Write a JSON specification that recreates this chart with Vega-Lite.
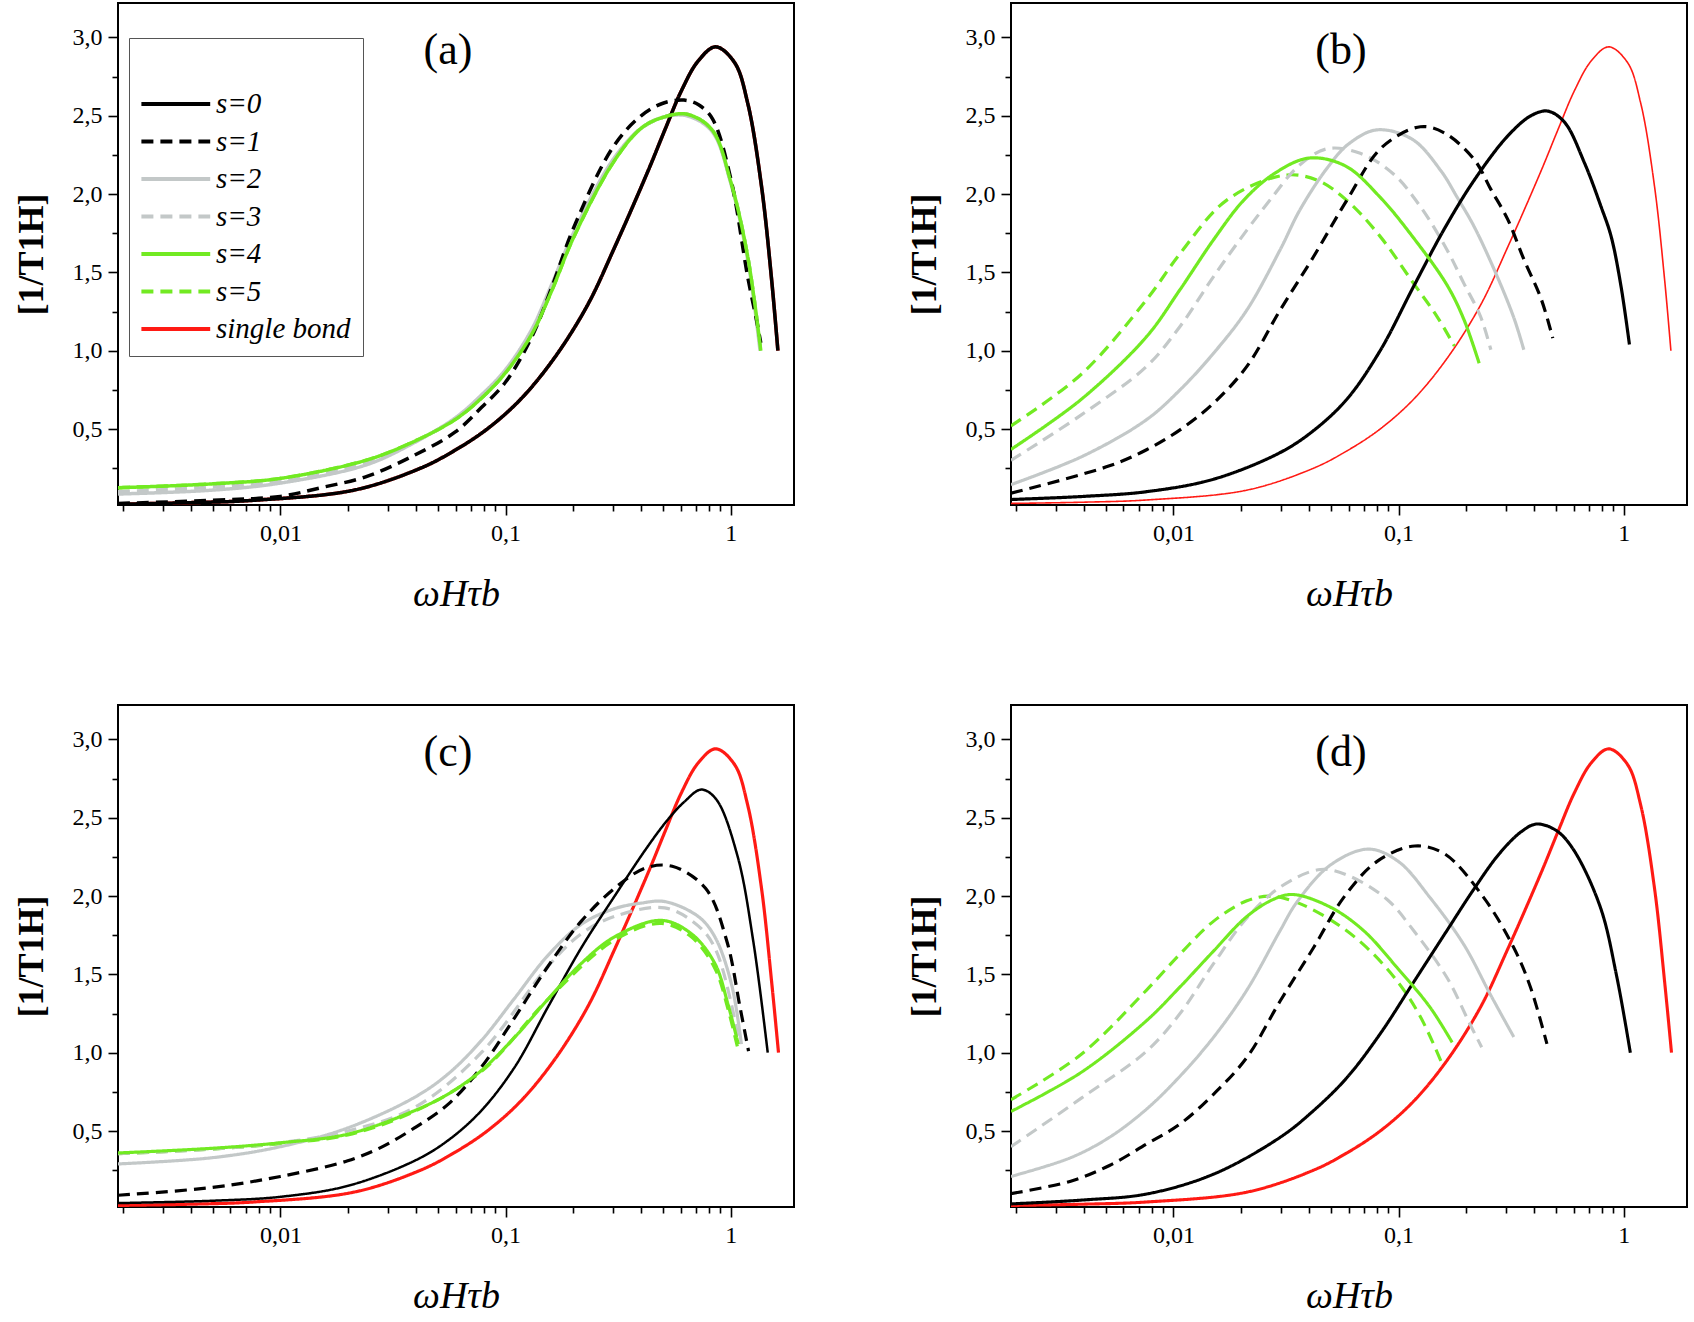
{
  "$schema": "https://vega.github.io/schema/vega-lite/v6.json",
  "background": "white",
  "padding": {"left": 12, "top": 2, "right": 0, "bottom": 0},
  "columns": 2,
  "spacing": {"row": 90, "column": 110},
  "datasets": {
    "curves": [
      {"p":"a","s":"single bond","x":0.0019,"y":0.02},{"p":"a","s":"single bond","x":0.004,"y":0.03},{"p":"a","s":"single bond","x":0.0076,"y":0.045},{"p":"a","s":"single bond","x":0.0212,"y":0.11},{"p":"a","s":"single bond","x":0.0419,"y":0.25},{"p":"a","s":"single bond","x":0.0589,"y":0.36},{"p":"a","s":"single bond","x":0.0828,"y":0.5},{"p":"a","s":"single bond","x":0.1166,"y":0.69},{"p":"a","s":"single bond","x":0.164,"y":0.95},{"p":"a","s":"single bond","x":0.231,"y":1.29},{"p":"a","s":"single bond","x":0.305,"y":1.66},{"p":"a","s":"single bond","x":0.43,"y":2.15},{"p":"a","s":"single bond","x":0.51,"y":2.41},{"p":"a","s":"single bond","x":0.604,"y":2.66},{"p":"a","s":"single bond","x":0.717,"y":2.85},{"p":"a","s":"single bond","x":0.857,"y":2.94},{"p":"a","s":"single bond","x":1.04,"y":2.84},{"p":"a","s":"single bond","x":1.19,"y":2.58},{"p":"a","s":"single bond","x":1.37,"y":2.05},{"p":"a","s":"single bond","x":1.52,"y":1.45},{"p":"a","s":"single bond","x":1.62,"y":1.0},
      {"p":"a","s":"s=5","x":0.0019,"y":0.125},{"p":"a","s":"s=5","x":0.005,"y":0.15},{"p":"a","s":"s=5","x":0.01,"y":0.185},{"p":"a","s":"s=5","x":0.0239,"y":0.3},{"p":"a","s":"s=5","x":0.0378,"y":0.41},{"p":"a","s":"s=5","x":0.0596,"y":0.56},{"p":"a","s":"s=5","x":0.0785,"y":0.7},{"p":"a","s":"s=5","x":0.1,"y":0.86},{"p":"a","s":"s=5","x":0.13,"y":1.1},{"p":"a","s":"s=5","x":0.16,"y":1.38},{"p":"a","s":"s=5","x":0.2,"y":1.72},{"p":"a","s":"s=5","x":0.3,"y":2.2},{"p":"a","s":"s=5","x":0.4,"y":2.42},{"p":"a","s":"s=5","x":0.5,"y":2.49},{"p":"a","s":"s=5","x":0.638,"y":2.51},{"p":"a","s":"s=5","x":0.826,"y":2.41},{"p":"a","s":"s=5","x":1.0,"y":2.08},{"p":"a","s":"s=5","x":1.19,"y":1.6},{"p":"a","s":"s=5","x":1.36,"y":1.0},
      {"p":"a","s":"s=3","x":0.0019,"y":0.1},{"p":"a","s":"s=3","x":0.005,"y":0.13},{"p":"a","s":"s=3","x":0.01,"y":0.17},{"p":"a","s":"s=3","x":0.0239,"y":0.285},{"p":"a","s":"s=3","x":0.0378,"y":0.405},{"p":"a","s":"s=3","x":0.0596,"y":0.565},{"p":"a","s":"s=3","x":0.0785,"y":0.71},{"p":"a","s":"s=3","x":0.1,"y":0.87},{"p":"a","s":"s=3","x":0.13,"y":1.11},{"p":"a","s":"s=3","x":0.16,"y":1.4},{"p":"a","s":"s=3","x":0.2,"y":1.73},{"p":"a","s":"s=3","x":0.3,"y":2.21},{"p":"a","s":"s=3","x":0.4,"y":2.42},{"p":"a","s":"s=3","x":0.5,"y":2.49},{"p":"a","s":"s=3","x":0.638,"y":2.51},{"p":"a","s":"s=3","x":0.826,"y":2.41},{"p":"a","s":"s=3","x":1.0,"y":2.08},{"p":"a","s":"s=3","x":1.19,"y":1.6},{"p":"a","s":"s=3","x":1.36,"y":1.0},
      {"p":"a","s":"s=2","x":0.0019,"y":0.085},{"p":"a","s":"s=2","x":0.005,"y":0.11},{"p":"a","s":"s=2","x":0.01,"y":0.155},{"p":"a","s":"s=2","x":0.0239,"y":0.27},{"p":"a","s":"s=2","x":0.0378,"y":0.4},{"p":"a","s":"s=2","x":0.0596,"y":0.57},{"p":"a","s":"s=2","x":0.0785,"y":0.72},{"p":"a","s":"s=2","x":0.1,"y":0.88},{"p":"a","s":"s=2","x":0.13,"y":1.13},{"p":"a","s":"s=2","x":0.16,"y":1.42},{"p":"a","s":"s=2","x":0.2,"y":1.75},{"p":"a","s":"s=2","x":0.3,"y":2.22},{"p":"a","s":"s=2","x":0.4,"y":2.42},{"p":"a","s":"s=2","x":0.5,"y":2.49},{"p":"a","s":"s=2","x":0.638,"y":2.5},{"p":"a","s":"s=2","x":0.826,"y":2.4},{"p":"a","s":"s=2","x":1.0,"y":2.07},{"p":"a","s":"s=2","x":1.19,"y":1.58},{"p":"a","s":"s=2","x":1.35,"y":1.0},
      {"p":"a","s":"s=1","x":0.0019,"y":0.025},{"p":"a","s":"s=1","x":0.005,"y":0.045},{"p":"a","s":"s=1","x":0.01,"y":0.07},{"p":"a","s":"s=1","x":0.0151,"y":0.125},{"p":"a","s":"s=1","x":0.0239,"y":0.195},{"p":"a","s":"s=1","x":0.0378,"y":0.32},{"p":"a","s":"s=1","x":0.0596,"y":0.48},{"p":"a","s":"s=1","x":0.0785,"y":0.64},{"p":"a","s":"s=1","x":0.1,"y":0.8},{"p":"a","s":"s=1","x":0.13,"y":1.08},{"p":"a","s":"s=1","x":0.16,"y":1.4},{"p":"a","s":"s=1","x":0.2,"y":1.78},{"p":"a","s":"s=1","x":0.3,"y":2.3},{"p":"a","s":"s=1","x":0.4,"y":2.5},{"p":"a","s":"s=1","x":0.5,"y":2.58},{"p":"a","s":"s=1","x":0.62,"y":2.6},{"p":"a","s":"s=1","x":0.72,"y":2.57},{"p":"a","s":"s=1","x":0.83,"y":2.48},{"p":"a","s":"s=1","x":1.0,"y":2.1},{"p":"a","s":"s=1","x":1.19,"y":1.47},{"p":"a","s":"s=1","x":1.3,"y":1.2},{"p":"a","s":"s=1","x":1.36,"y":1.05},
      {"p":"a","s":"s=0","x":0.0019,"y":0.02},{"p":"a","s":"s=0","x":0.004,"y":0.03},{"p":"a","s":"s=0","x":0.0076,"y":0.045},{"p":"a","s":"s=0","x":0.0212,"y":0.11},{"p":"a","s":"s=0","x":0.0419,"y":0.25},{"p":"a","s":"s=0","x":0.0589,"y":0.36},{"p":"a","s":"s=0","x":0.0828,"y":0.5},{"p":"a","s":"s=0","x":0.1166,"y":0.69},{"p":"a","s":"s=0","x":0.164,"y":0.95},{"p":"a","s":"s=0","x":0.231,"y":1.29},{"p":"a","s":"s=0","x":0.305,"y":1.66},{"p":"a","s":"s=0","x":0.43,"y":2.15},{"p":"a","s":"s=0","x":0.51,"y":2.41},{"p":"a","s":"s=0","x":0.604,"y":2.66},{"p":"a","s":"s=0","x":0.717,"y":2.85},{"p":"a","s":"s=0","x":0.857,"y":2.94},{"p":"a","s":"s=0","x":1.04,"y":2.84},{"p":"a","s":"s=0","x":1.19,"y":2.58},{"p":"a","s":"s=0","x":1.37,"y":2.05},{"p":"a","s":"s=0","x":1.52,"y":1.45},{"p":"a","s":"s=0","x":1.62,"y":1.0},
      {"p":"a","s":"s=4","x":0.0019,"y":0.125},{"p":"a","s":"s=4","x":0.005,"y":0.15},{"p":"a","s":"s=4","x":0.01,"y":0.185},{"p":"a","s":"s=4","x":0.0239,"y":0.3},{"p":"a","s":"s=4","x":0.0378,"y":0.41},{"p":"a","s":"s=4","x":0.0596,"y":0.56},{"p":"a","s":"s=4","x":0.0785,"y":0.7},{"p":"a","s":"s=4","x":0.1,"y":0.86},{"p":"a","s":"s=4","x":0.13,"y":1.1},{"p":"a","s":"s=4","x":0.16,"y":1.38},{"p":"a","s":"s=4","x":0.2,"y":1.72},{"p":"a","s":"s=4","x":0.3,"y":2.2},{"p":"a","s":"s=4","x":0.4,"y":2.42},{"p":"a","s":"s=4","x":0.5,"y":2.49},{"p":"a","s":"s=4","x":0.638,"y":2.51},{"p":"a","s":"s=4","x":0.826,"y":2.41},{"p":"a","s":"s=4","x":1.0,"y":2.08},{"p":"a","s":"s=4","x":1.19,"y":1.6},{"p":"a","s":"s=4","x":1.36,"y":1.0},

      {"p":"b","s":"single bond","x":0.0019,"y":0.025},{"p":"b","s":"single bond","x":0.004,"y":0.033},{"p":"b","s":"single bond","x":0.0076,"y":0.047},{"p":"b","s":"single bond","x":0.0212,"y":0.11},{"p":"b","s":"single bond","x":0.0419,"y":0.25},{"p":"b","s":"single bond","x":0.0589,"y":0.36},{"p":"b","s":"single bond","x":0.0828,"y":0.5},{"p":"b","s":"single bond","x":0.1166,"y":0.69},{"p":"b","s":"single bond","x":0.164,"y":0.95},{"p":"b","s":"single bond","x":0.231,"y":1.29},{"p":"b","s":"single bond","x":0.305,"y":1.66},{"p":"b","s":"single bond","x":0.43,"y":2.15},{"p":"b","s":"single bond","x":0.51,"y":2.41},{"p":"b","s":"single bond","x":0.604,"y":2.66},{"p":"b","s":"single bond","x":0.717,"y":2.85},{"p":"b","s":"single bond","x":0.857,"y":2.94},{"p":"b","s":"single bond","x":1.04,"y":2.84},{"p":"b","s":"single bond","x":1.19,"y":2.58},{"p":"b","s":"single bond","x":1.37,"y":2.05},{"p":"b","s":"single bond","x":1.52,"y":1.45},{"p":"b","s":"single bond","x":1.62,"y":1.0},
      {"p":"b","s":"s=5","x":0.0019,"y":0.52},{"p":"b","s":"s=5","x":0.0039,"y":0.85},{"p":"b","s":"s=5","x":0.0076,"y":1.326},{"p":"b","s":"s=5","x":0.0107,"y":1.62},{"p":"b","s":"s=5","x":0.0172,"y":1.96},{"p":"b","s":"s=5","x":0.031,"y":2.12},{"p":"b","s":"s=5","x":0.0434,"y":2.09},{"p":"b","s":"s=5","x":0.0589,"y":1.96},{"p":"b","s":"s=5","x":0.0828,"y":1.73},{"p":"b","s":"s=5","x":0.1166,"y":1.43},{"p":"b","s":"s=5","x":0.148,"y":1.22},{"p":"b","s":"s=5","x":0.177,"y":1.03},
      {"p":"b","s":"s=3","x":0.0019,"y":0.3},{"p":"b","s":"s=3","x":0.0039,"y":0.59},{"p":"b","s":"s=3","x":0.0076,"y":0.9},{"p":"b","s":"s=3","x":0.0107,"y":1.155},{"p":"b","s":"s=3","x":0.0151,"y":1.475},{"p":"b","s":"s=3","x":0.0212,"y":1.77},{"p":"b","s":"s=3","x":0.0268,"y":1.96},{"p":"b","s":"s=3","x":0.036,"y":2.18},{"p":"b","s":"s=3","x":0.0484,"y":2.29},{"p":"b","s":"s=3","x":0.0676,"y":2.26},{"p":"b","s":"s=3","x":0.0946,"y":2.13},{"p":"b","s":"s=3","x":0.125,"y":1.92},{"p":"b","s":"s=3","x":0.164,"y":1.645},{"p":"b","s":"s=3","x":0.195,"y":1.43},{"p":"b","s":"s=3","x":0.231,"y":1.22},{"p":"b","s":"s=3","x":0.257,"y":1.006},
      {"p":"b","s":"s=2","x":0.0019,"y":0.145},{"p":"b","s":"s=2","x":0.004,"y":0.33},{"p":"b","s":"s=2","x":0.0076,"y":0.56},{"p":"b","s":"s=2","x":0.0107,"y":0.75},{"p":"b","s":"s=2","x":0.0151,"y":0.985},{"p":"b","s":"s=2","x":0.0212,"y":1.26},{"p":"b","s":"s=2","x":0.0298,"y":1.645},{"p":"b","s":"s=2","x":0.0365,"y":1.9},{"p":"b","s":"s=2","x":0.0484,"y":2.17},{"p":"b","s":"s=2","x":0.06,"y":2.32},{"p":"b","s":"s=2","x":0.08,"y":2.41},{"p":"b","s":"s=2","x":0.115,"y":2.35},{"p":"b","s":"s=2","x":0.154,"y":2.15},{"p":"b","s":"s=2","x":0.182,"y":1.98},{"p":"b","s":"s=2","x":0.217,"y":1.79},{"p":"b","s":"s=2","x":0.275,"y":1.47},{"p":"b","s":"s=2","x":0.327,"y":1.2},{"p":"b","s":"s=2","x":0.36,"y":1.006},
      {"p":"b","s":"s=1","x":0.0019,"y":0.09},{"p":"b","s":"s=1","x":0.0052,"y":0.265},{"p":"b","s":"s=1","x":0.0076,"y":0.368},{"p":"b","s":"s=1","x":0.0107,"y":0.495},{"p":"b","s":"s=1","x":0.0151,"y":0.666},{"p":"b","s":"s=1","x":0.0212,"y":0.9},{"p":"b","s":"s=1","x":0.0298,"y":1.26},{"p":"b","s":"s=1","x":0.0419,"y":1.6},{"p":"b","s":"s=1","x":0.0589,"y":1.96},{"p":"b","s":"s=1","x":0.0845,"y":2.3},{"p":"b","s":"s=1","x":0.125,"y":2.43},{"p":"b","s":"s=1","x":0.16,"y":2.39},{"p":"b","s":"s=1","x":0.217,"y":2.22},{"p":"b","s":"s=1","x":0.257,"y":2.03},{"p":"b","s":"s=1","x":0.305,"y":1.84},{"p":"b","s":"s=1","x":0.361,"y":1.58},{"p":"b","s":"s=1","x":0.43,"y":1.33},{"p":"b","s":"s=1","x":0.484,"y":1.08},
      {"p":"b","s":"s=0","x":0.0019,"y":0.05},{"p":"b","s":"s=0","x":0.004,"y":0.07},{"p":"b","s":"s=0","x":0.0076,"y":0.1},{"p":"b","s":"s=0","x":0.0151,"y":0.18},{"p":"b","s":"s=0","x":0.0298,"y":0.35},{"p":"b","s":"s=0","x":0.0419,"y":0.49},{"p":"b","s":"s=0","x":0.0589,"y":0.69},{"p":"b","s":"s=0","x":0.0828,"y":1.0},{"p":"b","s":"s=0","x":0.1166,"y":1.41},{"p":"b","s":"s=0","x":0.16,"y":1.78},{"p":"b","s":"s=0","x":0.217,"y":2.09},{"p":"b","s":"s=0","x":0.305,"y":2.37},{"p":"b","s":"s=0","x":0.387,"y":2.5},{"p":"b","s":"s=0","x":0.459,"y":2.53},{"p":"b","s":"s=0","x":0.545,"y":2.46},{"p":"b","s":"s=0","x":0.669,"y":2.2},{"p":"b","s":"s=0","x":0.793,"y":1.92},{"p":"b","s":"s=0","x":0.879,"y":1.73},{"p":"b","s":"s=0","x":0.973,"y":1.41},{"p":"b","s":"s=0","x":1.06,"y":1.04},
      {"p":"b","s":"s=4","x":0.0019,"y":0.37},{"p":"b","s":"s=4","x":0.0039,"y":0.69},{"p":"b","s":"s=4","x":0.0076,"y":1.09},{"p":"b","s":"s=4","x":0.0107,"y":1.39},{"p":"b","s":"s=4","x":0.0151,"y":1.71},{"p":"b","s":"s=4","x":0.0205,"y":1.96},{"p":"b","s":"s=4","x":0.028,"y":2.13},{"p":"b","s":"s=4","x":0.04,"y":2.23},{"p":"b","s":"s=4","x":0.058,"y":2.18},{"p":"b","s":"s=4","x":0.0828,"y":1.98},{"p":"b","s":"s=4","x":0.1166,"y":1.72},{"p":"b","s":"s=4","x":0.164,"y":1.42},{"p":"b","s":"s=4","x":0.195,"y":1.2},{"p":"b","s":"s=4","x":0.228,"y":0.92},

      {"p":"c","s":"single bond","x":0.0019,"y":0.025},{"p":"c","s":"single bond","x":0.004,"y":0.033},{"p":"c","s":"single bond","x":0.0076,"y":0.047},{"p":"c","s":"single bond","x":0.0212,"y":0.11},{"p":"c","s":"single bond","x":0.0419,"y":0.25},{"p":"c","s":"single bond","x":0.0589,"y":0.36},{"p":"c","s":"single bond","x":0.0828,"y":0.5},{"p":"c","s":"single bond","x":0.1166,"y":0.69},{"p":"c","s":"single bond","x":0.164,"y":0.95},{"p":"c","s":"single bond","x":0.231,"y":1.29},{"p":"c","s":"single bond","x":0.305,"y":1.66},{"p":"c","s":"single bond","x":0.43,"y":2.15},{"p":"c","s":"single bond","x":0.51,"y":2.41},{"p":"c","s":"single bond","x":0.604,"y":2.66},{"p":"c","s":"single bond","x":0.717,"y":2.85},{"p":"c","s":"single bond","x":0.857,"y":2.94},{"p":"c","s":"single bond","x":1.04,"y":2.84},{"p":"c","s":"single bond","x":1.19,"y":2.58},{"p":"c","s":"single bond","x":1.37,"y":2.05},{"p":"c","s":"single bond","x":1.52,"y":1.45},{"p":"c","s":"single bond","x":1.63,"y":1.0},
      {"p":"c","s":"s=5","x":0.0019,"y":0.355},{"p":"c","s":"s=5","x":0.005,"y":0.385},{"p":"c","s":"s=5","x":0.01,"y":0.42},{"p":"c","s":"s=5","x":0.0199,"y":0.475},{"p":"c","s":"s=5","x":0.0394,"y":0.625},{"p":"c","s":"s=5","x":0.078,"y":0.88},{"p":"c","s":"s=5","x":0.154,"y":1.34},{"p":"c","s":"s=5","x":0.305,"y":1.72},{"p":"c","s":"s=5","x":0.492,"y":1.825},{"p":"c","s":"s=5","x":0.668,"y":1.74},{"p":"c","s":"s=5","x":0.85,"y":1.54},{"p":"c","s":"s=5","x":0.972,"y":1.28},{"p":"c","s":"s=5","x":1.07,"y":1.04},
      {"p":"c","s":"s=3","x":0.0019,"y":0.355},{"p":"c","s":"s=3","x":0.005,"y":0.385},{"p":"c","s":"s=3","x":0.01,"y":0.425},{"p":"c","s":"s=3","x":0.0199,"y":0.5},{"p":"c","s":"s=3","x":0.0394,"y":0.65},{"p":"c","s":"s=3","x":0.078,"y":1.0},{"p":"c","s":"s=3","x":0.154,"y":1.55},{"p":"c","s":"s=3","x":0.217,"y":1.76},{"p":"c","s":"s=3","x":0.305,"y":1.87},{"p":"c","s":"s=3","x":0.509,"y":1.925},{"p":"c","s":"s=3","x":0.717,"y":1.81},{"p":"c","s":"s=3","x":0.85,"y":1.67},{"p":"c","s":"s=3","x":1.007,"y":1.31},{"p":"c","s":"s=3","x":1.09,"y":1.055},
      {"p":"c","s":"s=2","x":0.0019,"y":0.29},{"p":"c","s":"s=2","x":0.005,"y":0.33},{"p":"c","s":"s=2","x":0.01,"y":0.4},{"p":"c","s":"s=2","x":0.0199,"y":0.52},{"p":"c","s":"s=2","x":0.0394,"y":0.715},{"p":"c","s":"s=2","x":0.0555,"y":0.864},{"p":"c","s":"s=2","x":0.078,"y":1.077},{"p":"c","s":"s=2","x":0.11,"y":1.35},{"p":"c","s":"s=2","x":0.154,"y":1.62},{"p":"c","s":"s=2","x":0.217,"y":1.82},{"p":"c","s":"s=2","x":0.305,"y":1.92},{"p":"c","s":"s=2","x":0.4,"y":1.955},{"p":"c","s":"s=2","x":0.509,"y":1.965},{"p":"c","s":"s=2","x":0.717,"y":1.87},{"p":"c","s":"s=2","x":0.85,"y":1.74},{"p":"c","s":"s=2","x":1.007,"y":1.44},{"p":"c","s":"s=2","x":1.115,"y":1.055},
      {"p":"c","s":"s=1","x":0.0019,"y":0.09},{"p":"c","s":"s=1","x":0.005,"y":0.14},{"p":"c","s":"s=1","x":0.01,"y":0.21},{"p":"c","s":"s=1","x":0.0199,"y":0.31},{"p":"c","s":"s=1","x":0.028,"y":0.396},{"p":"c","s":"s=1","x":0.0394,"y":0.52},{"p":"c","s":"s=1","x":0.0555,"y":0.67},{"p":"c","s":"s=1","x":0.078,"y":0.907},{"p":"c","s":"s=1","x":0.11,"y":1.226},{"p":"c","s":"s=1","x":0.154,"y":1.55},{"p":"c","s":"s=1","x":0.217,"y":1.84},{"p":"c","s":"s=1","x":0.305,"y":2.05},{"p":"c","s":"s=1","x":0.42,"y":2.18},{"p":"c","s":"s=1","x":0.55,"y":2.19},{"p":"c","s":"s=1","x":0.773,"y":2.05},{"p":"c","s":"s=1","x":0.962,"y":1.71},{"p":"c","s":"s=1","x":1.1,"y":1.29},{"p":"c","s":"s=1","x":1.2,"y":1.01},
      {"p":"c","s":"s=0","x":0.0019,"y":0.04},{"p":"c","s":"s=0","x":0.005,"y":0.055},{"p":"c","s":"s=0","x":0.01,"y":0.08},{"p":"c","s":"s=0","x":0.0199,"y":0.15},{"p":"c","s":"s=0","x":0.0394,"y":0.31},{"p":"c","s":"s=0","x":0.0555,"y":0.44},{"p":"c","s":"s=0","x":0.078,"y":0.63},{"p":"c","s":"s=0","x":0.11,"y":0.91},{"p":"c","s":"s=0","x":0.154,"y":1.29},{"p":"c","s":"s=0","x":0.217,"y":1.67},{"p":"c","s":"s=0","x":0.305,"y":2.0},{"p":"c","s":"s=0","x":0.42,"y":2.3},{"p":"c","s":"s=0","x":0.52,"y":2.48},{"p":"c","s":"s=0","x":0.62,"y":2.6},{"p":"c","s":"s=0","x":0.74,"y":2.68},{"p":"c","s":"s=0","x":0.86,"y":2.62},{"p":"c","s":"s=0","x":1.07,"y":2.26},{"p":"c","s":"s=0","x":1.26,"y":1.71},{"p":"c","s":"s=0","x":1.46,"y":1.0},
      {"p":"c","s":"s=4","x":0.0019,"y":0.36},{"p":"c","s":"s=4","x":0.005,"y":0.39},{"p":"c","s":"s=4","x":0.01,"y":0.425},{"p":"c","s":"s=4","x":0.0199,"y":0.48},{"p":"c","s":"s=4","x":0.0394,"y":0.63},{"p":"c","s":"s=4","x":0.0555,"y":0.736},{"p":"c","s":"s=4","x":0.078,"y":0.886},{"p":"c","s":"s=4","x":0.11,"y":1.1},{"p":"c","s":"s=4","x":0.154,"y":1.34},{"p":"c","s":"s=4","x":0.217,"y":1.57},{"p":"c","s":"s=4","x":0.305,"y":1.74},{"p":"c","s":"s=4","x":0.492,"y":1.845},{"p":"c","s":"s=4","x":0.668,"y":1.76},{"p":"c","s":"s=4","x":0.85,"y":1.57},{"p":"c","s":"s=4","x":0.972,"y":1.31},{"p":"c","s":"s=4","x":1.08,"y":1.055},

      {"p":"d","s":"single bond","x":0.0019,"y":0.025},{"p":"d","s":"single bond","x":0.004,"y":0.033},{"p":"d","s":"single bond","x":0.0076,"y":0.047},{"p":"d","s":"single bond","x":0.0212,"y":0.11},{"p":"d","s":"single bond","x":0.0419,"y":0.25},{"p":"d","s":"single bond","x":0.0589,"y":0.36},{"p":"d","s":"single bond","x":0.0828,"y":0.5},{"p":"d","s":"single bond","x":0.1166,"y":0.69},{"p":"d","s":"single bond","x":0.164,"y":0.95},{"p":"d","s":"single bond","x":0.231,"y":1.29},{"p":"d","s":"single bond","x":0.305,"y":1.66},{"p":"d","s":"single bond","x":0.43,"y":2.15},{"p":"d","s":"single bond","x":0.51,"y":2.41},{"p":"d","s":"single bond","x":0.604,"y":2.66},{"p":"d","s":"single bond","x":0.717,"y":2.85},{"p":"d","s":"single bond","x":0.857,"y":2.94},{"p":"d","s":"single bond","x":1.04,"y":2.84},{"p":"d","s":"single bond","x":1.19,"y":2.58},{"p":"d","s":"single bond","x":1.37,"y":2.05},{"p":"d","s":"single bond","x":1.52,"y":1.45},{"p":"d","s":"single bond","x":1.63,"y":1.0},
      {"p":"d","s":"s=5","x":0.0019,"y":0.7},{"p":"d","s":"s=5","x":0.0039,"y":0.99},{"p":"d","s":"s=5","x":0.0076,"y":1.4},{"p":"d","s":"s=5","x":0.0107,"y":1.63},{"p":"d","s":"s=5","x":0.0151,"y":1.84},{"p":"d","s":"s=5","x":0.0212,"y":1.97},{"p":"d","s":"s=5","x":0.027,"y":2.0},{"p":"d","s":"s=5","x":0.0353,"y":1.96},{"p":"d","s":"s=5","x":0.0497,"y":1.85},{"p":"d","s":"s=5","x":0.0699,"y":1.69},{"p":"d","s":"s=5","x":0.0983,"y":1.46},{"p":"d","s":"s=5","x":0.125,"y":1.23},{"p":"d","s":"s=5","x":0.156,"y":0.93},
      {"p":"d","s":"s=3","x":0.0019,"y":0.4},{"p":"d","s":"s=3","x":0.0039,"y":0.71},{"p":"d","s":"s=3","x":0.0076,"y":1.01},{"p":"d","s":"s=3","x":0.0107,"y":1.25},{"p":"d","s":"s=3","x":0.0151,"y":1.57},{"p":"d","s":"s=3","x":0.0212,"y":1.86},{"p":"d","s":"s=3","x":0.03,"y":2.06},{"p":"d","s":"s=3","x":0.045,"y":2.17},{"p":"d","s":"s=3","x":0.06,"y":2.13},{"p":"d","s":"s=3","x":0.0887,"y":1.98},{"p":"d","s":"s=3","x":0.1166,"y":1.78},{"p":"d","s":"s=3","x":0.164,"y":1.48},{"p":"d","s":"s=3","x":0.208,"y":1.18},{"p":"d","s":"s=3","x":0.234,"y":1.035},
      {"p":"d","s":"s=2","x":0.0019,"y":0.21},{"p":"d","s":"s=2","x":0.0035,"y":0.33},{"p":"d","s":"s=2","x":0.0052,"y":0.46},{"p":"d","s":"s=2","x":0.0076,"y":0.64},{"p":"d","s":"s=2","x":0.0107,"y":0.85},{"p":"d","s":"s=2","x":0.0151,"y":1.1},{"p":"d","s":"s=2","x":0.0212,"y":1.4},{"p":"d","s":"s=2","x":0.0298,"y":1.78},{"p":"d","s":"s=2","x":0.0353,"y":1.96},{"p":"d","s":"s=2","x":0.05,"y":2.2},{"p":"d","s":"s=2","x":0.0736,"y":2.3},{"p":"d","s":"s=2","x":0.1,"y":2.22},{"p":"d","s":"s=2","x":0.138,"y":1.99},{"p":"d","s":"s=2","x":0.195,"y":1.69},{"p":"d","s":"s=2","x":0.255,"y":1.375},{"p":"d","s":"s=2","x":0.325,"y":1.1},
      {"p":"d","s":"s=1","x":0.0019,"y":0.1},{"p":"d","s":"s=1","x":0.0035,"y":0.18},{"p":"d","s":"s=1","x":0.0052,"y":0.28},{"p":"d","s":"s=1","x":0.0076,"y":0.417},{"p":"d","s":"s=1","x":0.0107,"y":0.545},{"p":"d","s":"s=1","x":0.0151,"y":0.736},{"p":"d","s":"s=1","x":0.0212,"y":0.97},{"p":"d","s":"s=1","x":0.0298,"y":1.33},{"p":"d","s":"s=1","x":0.0419,"y":1.67},{"p":"d","s":"s=1","x":0.057,"y":1.99},{"p":"d","s":"s=1","x":0.08,"y":2.22},{"p":"d","s":"s=1","x":0.118,"y":2.32},{"p":"d","s":"s=1","x":0.16,"y":2.27},{"p":"d","s":"s=1","x":0.239,"y":1.99},{"p":"d","s":"s=1","x":0.325,"y":1.67},{"p":"d","s":"s=1","x":0.385,"y":1.42},{"p":"d","s":"s=1","x":0.456,"y":1.056},
      {"p":"d","s":"s=0","x":0.0019,"y":0.035},{"p":"d","s":"s=0","x":0.004,"y":0.06},{"p":"d","s":"s=0","x":0.0076,"y":0.098},{"p":"d","s":"s=0","x":0.0151,"y":0.225},{"p":"d","s":"s=0","x":0.0298,"y":0.46},{"p":"d","s":"s=0","x":0.0419,"y":0.63},{"p":"d","s":"s=0","x":0.0589,"y":0.84},{"p":"d","s":"s=0","x":0.0828,"y":1.12},{"p":"d","s":"s=0","x":0.1166,"y":1.45},{"p":"d","s":"s=0","x":0.164,"y":1.78},{"p":"d","s":"s=0","x":0.215,"y":2.04},{"p":"d","s":"s=0","x":0.28,"y":2.27},{"p":"d","s":"s=0","x":0.35,"y":2.41},{"p":"d","s":"s=0","x":0.41,"y":2.46},{"p":"d","s":"s=0","x":0.5,"y":2.42},{"p":"d","s":"s=0","x":0.596,"y":2.3},{"p":"d","s":"s=0","x":0.787,"y":1.93},{"p":"d","s":"s=0","x":0.93,"y":1.49},{"p":"d","s":"s=0","x":1.07,"y":1.0},
      {"p":"d","s":"s=4","x":0.0019,"y":0.625},{"p":"d","s":"s=4","x":0.0039,"y":0.875},{"p":"d","s":"s=4","x":0.0076,"y":1.205},{"p":"d","s":"s=4","x":0.0107,"y":1.42},{"p":"d","s":"s=4","x":0.0151,"y":1.65},{"p":"d","s":"s=4","x":0.0212,"y":1.87},{"p":"d","s":"s=4","x":0.0279,"y":1.98},{"p":"d","s":"s=4","x":0.034,"y":2.01},{"p":"d","s":"s=4","x":0.0497,"y":1.93},{"p":"d","s":"s=4","x":0.0699,"y":1.78},{"p":"d","s":"s=4","x":0.0983,"y":1.545},{"p":"d","s":"s=4","x":0.138,"y":1.29},{"p":"d","s":"s=4","x":0.173,"y":1.066}
    ]
  },
  "concat": [
    {
      "width": 676, "height": 502,
      "title": "(a)",
      "data": {"name": "curves"},
      "transform": [{"filter": "datum.p == 'a'"}],
      "mark": {"type": "line", "interpolate": "catmull-rom", "clip": true, "strokeCap": "butt"},
      "encoding": {
        "x": {"field": "x", "type": "quantitative", "scale": {"type": "log", "domain": [0.0019, 1.91], "nice": false},
          "axis": {"title": "ωHτb", "labelFont": "Liberation Serif", "titleFont": "Liberation Serif", "values": [0.002,0.003,0.004,0.005,0.006,0.007,0.008,0.009,0.01,0.02,0.03,0.04,0.05,0.06,0.07,0.08,0.09,0.1,0.2,0.3,0.4,0.5,0.6,0.7,0.8,0.9,1],
            "labelExpr": "datum.value == 0.01 ? '0,01' : datum.value == 0.1 ? '0,1' : datum.value == 1 ? '1' : ''",
            "tickSize": {"condition": {"test": "datum.value == 0.01 || datum.value == 0.1 || datum.value == 1", "value": 10}, "value": 6}}},
        "y": {"field": "y", "type": "quantitative", "scale": {"domain": [0.015, 3.22], "nice": false, "zero": false},
          "axis": {"title": "[1/T1H]", "labelFont": "Liberation Serif", "titleFont": "Liberation Serif", "values": [0.25,0.5,0.75,1,1.25,1.5,1.75,2,2.25,2.5,2.75,3],
            "labelExpr": "datum.value % 0.5 == 0 ? replace(format(datum.value, '.1f'), '.', ',') : ''",
            "tickSize": {"condition": {"test": "datum.value % 0.5 == 0", "value": 10}, "value": 6}}},
        "color": {"field": "s", "type": "nominal",
          "scale": {"domain": ["s=0","s=1","s=2","s=3","s=4","s=5","single bond"], "range": ["#000000","#000000","#c3c8c8","#c3c8c8","#72ea22","#72ea22","#ff1a14"]},
          "legend": {"orient": "none", "legendX": 11, "legendY": 35, "title": " ", "titleFontSize": 22, "titlePadding": 14, "padding": 12, "strokeColor": "#555555", "fillColor": "white", "symbolType": "M-1.1,0H3.2", "symbolSize": 1024, "symbolStrokeWidth": 4, "labelFont": "Liberation Serif", "labelFontSize": 29, "labelFontStyle": "italic", "labelOffset": 39, "rowPadding": 4.5, "labelLimit": 300}},
        "strokeDash": {"field": "s", "type": "nominal",
          "scale": {"domain": ["s=0","s=1","s=2","s=3","s=4","s=5","single bond"], "range": [[1,0],[12,7],[1,0],[12,7],[1,0],[12,7],[1,0]]},
          "legend": {"orient": "none", "legendX": 11, "legendY": 35, "title": " ", "titleFontSize": 22, "titlePadding": 14, "padding": 12, "strokeColor": "#555555", "fillColor": "white", "symbolType": "M-1.1,0H3.2", "symbolSize": 1024, "symbolStrokeWidth": 4, "labelFont": "Liberation Serif", "labelFontSize": 29, "labelFontStyle": "italic", "labelOffset": 39, "rowPadding": 4.5, "labelLimit": 300}},
        "strokeWidth": {"value": 3.5}
      }
    },
    {
      "width": 676, "height": 502,
      "title": "(b)",
      "data": {"name": "curves"},
      "transform": [{"filter": "datum.p == 'b'"}],
      "mark": {"type": "line", "interpolate": "catmull-rom", "clip": true, "strokeCap": "butt"},
      "encoding": {
        "x": {"field": "x", "type": "quantitative", "scale": {"type": "log", "domain": [0.0019, 1.91], "nice": false},
          "axis": {"title": "ωHτb", "labelFont": "Liberation Serif", "titleFont": "Liberation Serif", "values": [0.002,0.003,0.004,0.005,0.006,0.007,0.008,0.009,0.01,0.02,0.03,0.04,0.05,0.06,0.07,0.08,0.09,0.1,0.2,0.3,0.4,0.5,0.6,0.7,0.8,0.9,1],
            "labelExpr": "datum.value == 0.01 ? '0,01' : datum.value == 0.1 ? '0,1' : datum.value == 1 ? '1' : ''",
            "tickSize": {"condition": {"test": "datum.value == 0.01 || datum.value == 0.1 || datum.value == 1", "value": 10}, "value": 6}}},
        "y": {"field": "y", "type": "quantitative", "scale": {"domain": [0.015, 3.22], "nice": false, "zero": false},
          "axis": {"title": "[1/T1H]", "labelFont": "Liberation Serif", "titleFont": "Liberation Serif", "values": [0.25,0.5,0.75,1,1.25,1.5,1.75,2,2.25,2.5,2.75,3],
            "labelExpr": "datum.value % 0.5 == 0 ? replace(format(datum.value, '.1f'), '.', ',') : ''",
            "tickSize": {"condition": {"test": "datum.value % 0.5 == 0", "value": 10}, "value": 6}}},
        "color": {"field": "s", "type": "nominal",
          "scale": {"domain": ["s=0","s=1","s=2","s=3","s=4","s=5","single bond"], "range": ["#000000","#000000","#c3c8c8","#c3c8c8","#72ea22","#72ea22","#ff1a14"]}, "legend": null},
        "strokeDash": {"field": "s", "type": "nominal",
          "scale": {"domain": ["s=0","s=1","s=2","s=3","s=4","s=5","single bond"], "range": [[1,0],[12,7],[1,0],[12,7],[1,0],[12,7],[1,0]]}, "legend": null},
        "strokeWidth": {"condition": {"test": "datum.s == 'single bond'", "value": 1.6}, "value": 3.2}
      }
    },
    {
      "width": 676, "height": 502,
      "title": "(c)",
      "data": {"name": "curves"},
      "transform": [{"filter": "datum.p == 'c'"}],
      "mark": {"type": "line", "interpolate": "catmull-rom", "clip": true, "strokeCap": "butt"},
      "encoding": {
        "x": {"field": "x", "type": "quantitative", "scale": {"type": "log", "domain": [0.0019, 1.91], "nice": false},
          "axis": {"title": "ωHτb", "labelFont": "Liberation Serif", "titleFont": "Liberation Serif", "values": [0.002,0.003,0.004,0.005,0.006,0.007,0.008,0.009,0.01,0.02,0.03,0.04,0.05,0.06,0.07,0.08,0.09,0.1,0.2,0.3,0.4,0.5,0.6,0.7,0.8,0.9,1],
            "labelExpr": "datum.value == 0.01 ? '0,01' : datum.value == 0.1 ? '0,1' : datum.value == 1 ? '1' : ''",
            "tickSize": {"condition": {"test": "datum.value == 0.01 || datum.value == 0.1 || datum.value == 1", "value": 10}, "value": 6}}},
        "y": {"field": "y", "type": "quantitative", "scale": {"domain": [0.015, 3.22], "nice": false, "zero": false},
          "axis": {"title": "[1/T1H]", "labelFont": "Liberation Serif", "titleFont": "Liberation Serif", "values": [0.25,0.5,0.75,1,1.25,1.5,1.75,2,2.25,2.5,2.75,3],
            "labelExpr": "datum.value % 0.5 == 0 ? replace(format(datum.value, '.1f'), '.', ',') : ''",
            "tickSize": {"condition": {"test": "datum.value % 0.5 == 0", "value": 10}, "value": 6}}},
        "color": {"field": "s", "type": "nominal",
          "scale": {"domain": ["s=0","s=1","s=2","s=3","s=4","s=5","single bond"], "range": ["#000000","#000000","#c3c8c8","#c3c8c8","#72ea22","#72ea22","#ff1a14"]}, "legend": null},
        "strokeDash": {"field": "s", "type": "nominal",
          "scale": {"domain": ["s=0","s=1","s=2","s=3","s=4","s=5","single bond"], "range": [[1,0],[12,7],[1,0],[12,7],[1,0],[12,7],[1,0]]}, "legend": null},
        "strokeWidth": {"condition": {"test": "datum.s == 's=0'", "value": 2.5}, "value": 3.2}
      }
    },
    {
      "width": 676, "height": 502,
      "title": "(d)",
      "data": {"name": "curves"},
      "transform": [{"filter": "datum.p == 'd'"}],
      "mark": {"type": "line", "interpolate": "catmull-rom", "clip": true, "strokeCap": "butt"},
      "encoding": {
        "x": {"field": "x", "type": "quantitative", "scale": {"type": "log", "domain": [0.0019, 1.91], "nice": false},
          "axis": {"title": "ωHτb", "labelFont": "Liberation Serif", "titleFont": "Liberation Serif", "values": [0.002,0.003,0.004,0.005,0.006,0.007,0.008,0.009,0.01,0.02,0.03,0.04,0.05,0.06,0.07,0.08,0.09,0.1,0.2,0.3,0.4,0.5,0.6,0.7,0.8,0.9,1],
            "labelExpr": "datum.value == 0.01 ? '0,01' : datum.value == 0.1 ? '0,1' : datum.value == 1 ? '1' : ''",
            "tickSize": {"condition": {"test": "datum.value == 0.01 || datum.value == 0.1 || datum.value == 1", "value": 10}, "value": 6}}},
        "y": {"field": "y", "type": "quantitative", "scale": {"domain": [0.015, 3.22], "nice": false, "zero": false},
          "axis": {"title": "[1/T1H]", "labelFont": "Liberation Serif", "titleFont": "Liberation Serif", "values": [0.25,0.5,0.75,1,1.25,1.5,1.75,2,2.25,2.5,2.75,3],
            "labelExpr": "datum.value % 0.5 == 0 ? replace(format(datum.value, '.1f'), '.', ',') : ''",
            "tickSize": {"condition": {"test": "datum.value % 0.5 == 0", "value": 10}, "value": 6}}},
        "color": {"field": "s", "type": "nominal",
          "scale": {"domain": ["s=0","s=1","s=2","s=3","s=4","s=5","single bond"], "range": ["#000000","#000000","#c3c8c8","#c3c8c8","#72ea22","#72ea22","#ff1a14"]}, "legend": null},
        "strokeDash": {"field": "s", "type": "nominal",
          "scale": {"domain": ["s=0","s=1","s=2","s=3","s=4","s=5","single bond"], "range": [[1,0],[12,7],[1,0],[12,7],[1,0],[12,7],[1,0]]}, "legend": null},
        "strokeWidth": {"value": 3.1}
      }
    }
  ],
  "resolve": {"scale": {"color": "independent", "strokeDash": "independent"}},
  "config": {
    "font": "Liberation Serif",
    "view": {"stroke": "#000000", "strokeWidth": 2},
    "axis": {"domain": false, "grid": false, "tickColor": "#000000", "tickWidth": 1.6, "labelFont": "Liberation Serif", "labelFontSize": 24, "labelColor": "#000000", "labelPadding": 6, "titleFont": "Liberation Serif", "titleColor": "#000000", "labelOverlap": false},
    "axisX": {"titleFontSize": 38, "titleFontStyle": "italic", "titleFontWeight": "normal", "titlePadding": 30, "labelFlush": false},
    "axisY": {"titleFontSize": 36, "titleFontWeight": "bold", "titlePadding": 22},
    "legend": {"labelFont": "Liberation Serif", "labelColor": "#000000", "titleFont": "Liberation Serif"},
    "title": {"font": "Liberation Serif", "fontSize": 44, "fontWeight": "normal", "color": "#000000", "anchor": "middle", "frame": "group", "offset": -70, "dx": -8}
  }
}
